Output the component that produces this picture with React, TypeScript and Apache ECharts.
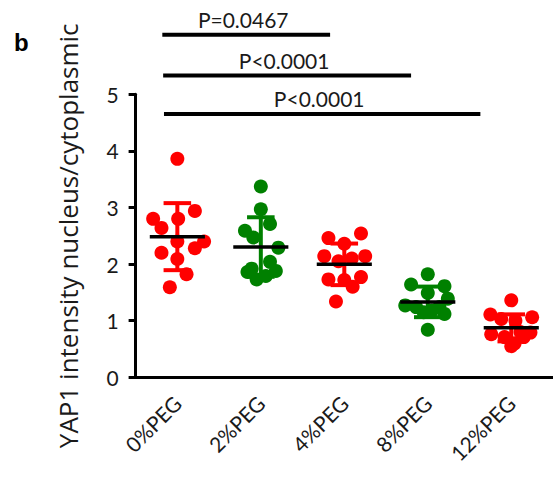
import React, { useEffect, useRef } from "react";
import * as echarts from "echarts";

const categories = ["0%PEG", "2%PEG", "4%PEG", "8%PEG", "12%PEG"];
const groupColors = ["#ff0000", "#008000", "#ff0000", "#008000", "#ff0000"];

// values, with their horizontal scatter offsets (in category units)
const g0Values = [3.86, 2.8, 2.94, 2.8, 2.64, 2.4, 2.4, 2.28, 2.2, 2.09, 1.82, 1.59];
const g0Offsets = [0, -0.29, 0.21, 0.01, -0.19, 0, 0.32, 0.21, -0.19, 0, 0.11, -0.09];
const g1Values = [3.37, 2.97, 2.71, 2.59, 2.47, 2.29, 2.04, 1.92, 1.86, 1.88, 1.79, 1.73];
const g1Offsets = [0, 0, 0.11, -0.19, -0.09, 0.21, 0.11, -0.11, -0.16, 0.18, 0.06, -0.05];
const g2Values = [2.54, 2.46, 2.36, 2.14, 2.14, 2.1, 2.05, 1.73, 1.77, 1.72, 1.6, 1.34];
const g2Offsets = [0.2, -0.19, 0, -0.24, 0.25, 0.09, -0.07, -0.19, 0.2, 0, 0.1, -0.1];
const g3Values = [1.82, 1.64, 1.61, 1.49, 1.39, 1.27, 1.24, 1.24, 1.18, 1.15, 1.12, 0.84];
const g3Offsets = [0, -0.2, 0.2, 0, 0.24, -0.27, -0.14, 0.14, 0.05, -0.05, 0.2, 0];
const g4Values = [1.36, 1.11, 1.06, 1.03, 1.0, 0.8, 0.79, 0.76, 0.71, 0.71, 0.6, 0.55];
const g4Offsets = [0, -0.25, 0.25, -0.12, 0.05, 0.11, 0.23, -0.24, -0.08, 0.15, 0.04, 0];

const groupValues = [g0Values, g1Values, g2Values, g3Values, g4Values];
const groupOffsets = [g0Offsets, g1Offsets, g2Offsets, g3Offsets, g4Offsets];

const yTicks = [0, 1, 2, 3, 4, 5];

// significance brackets
const pLabels = ["P=0.0467", "P<0.0001", "P<0.0001"];
const pStart = [-0.18, -0.17, -0.16];
const pEnd = [1.83, 2.8, 3.63];
const pLevel = [6.05, 5.33, 4.65];

function mean(a: number[]) {
  return a.reduce((s, v) => s + v, 0) / a.length;
}
function sd(a: number[]) {
  const m = mean(a);
  return Math.sqrt(a.reduce((s, v) => s + (v - m) * (v - m), 0) / (a.length - 1));
}

const FONT = "Lato";

export default function App() {
  const ref = useRef<HTMLDivElement>(null);
  useEffect(() => {
    if (!ref.current) return;
    const chart = echarts.init(ref.current, null, { renderer: "svg" });

    const scatterSeries = groupValues.map((vals, gi) => ({
      type: "scatter",
      xAxisIndex: 1,
      yAxisIndex: 0,
      symbol: "circle",
      symbolSize: 14,
      itemStyle: { color: groupColors[gi], opacity: 1 },
      z: 2,
      data: vals.map((v, k) => [gi + groupOffsets[gi][k], v]),
    }));

    const statsData = groupValues.map((vals, gi) => [gi, mean(vals), sd(vals)]);

    const statsSeries = {
      type: "custom",
      xAxisIndex: 1,
      yAxisIndex: 0,
      z: 3,
      clip: false,
      data: statsData,
      renderItem: (params: any, api: any) => {
        const i = api.value(0);
        const m = api.value(1);
        const s = api.value(2);
        const c = groupColors[params.dataIndex];
        const top = api.coord([i, m + s]);
        const bot = api.coord([i, m - s]);
        const capL = api.coord([i - 0.165, m])[0];
        const capR = api.coord([i + 0.165, m])[0];
        const mL = api.coord([i - 0.33, m]);
        const mR = api.coord([i + 0.33, m]);
        const st = { stroke: c, lineWidth: 4 };
        return {
          type: "group",
          children: [
            { type: "line", shape: { x1: top[0], y1: top[1], x2: bot[0], y2: bot[1] }, style: st },
            { type: "line", shape: { x1: capL, y1: top[1], x2: capR, y2: top[1] }, style: st },
            { type: "line", shape: { x1: capL, y1: bot[1], x2: capR, y2: bot[1] }, style: st },
            {
              type: "line",
              shape: { x1: mL[0], y1: mL[1], x2: mR[0], y2: mR[1] },
              style: { stroke: "#000", lineWidth: 3.5 },
            },
          ],
        };
      },
    };

    const bracketSeries = {
      type: "custom",
      xAxisIndex: 1,
      yAxisIndex: 0,
      z: 4,
      clip: false,
      data: pLabels.map((l, k) => [pStart[k], pEnd[k], pLevel[k]]),
      renderItem: (params: any, api: any) => {
        const a = api.coord([api.value(0), api.value(2)]);
        const b = api.coord([api.value(1), api.value(2)]);
        return {
          type: "group",
          children: [
            {
              type: "line",
              shape: { x1: a[0], y1: a[1], x2: b[0], y2: b[1] },
              style: { stroke: "#000", lineWidth: 4 },
            },
            {
              type: "text",
              x: (a[0] + b[0]) / 2 - 3,
              y: a[1] - 5,
              style: {
                text: pLabels[params.dataIndex],
                fill: "#1a1a1a",
                font: `21px ${FONT}`,
                align: "center",
                verticalAlign: "bottom",
              },
            },
          ],
        };
      },
    };

    chart.setOption({
      animation: false,
      backgroundColor: "#ffffff",
      grid: { left: 135.6, top: 94.3, width: 423.75, height: 283 },
      xAxis: [
        {
          type: "category",
          data: categories,
          boundaryGap: true,
          axisLine: { lineStyle: { color: "#000", width: 3 } },
          axisTick: { alignWithLabel: true, length: 7, lineStyle: { color: "#000", width: 3 } },
          axisLabel: {
            rotate: 45,
            margin: 22,
            color: "#1a1a1a",
            fontSize: 21,
            fontFamily: FONT,
            interval: 0,
          },
          splitLine: { show: false },
        },
        {
          type: "value",
          min: -0.5,
          max: 4.5,
          show: false,
          splitLine: { show: false },
        },
      ],
      yAxis: [
        {
          type: "value",
          min: yTicks[0],
          max: yTicks[yTicks.length - 1],
          interval: 1,
          name: "YAP1 intensity nucleus/cytoplasmic",
          nameLocation: "middle",
          nameGap: 55,
          nameTextStyle: { fontSize: 26, fontFamily: "Open Sans", color: "#1a1a1a" },
          axisLine: { show: true, onZero: false, lineStyle: { color: "#000", width: 3 } },
          axisTick: { show: true, length: 7, lineStyle: { color: "#000", width: 3 } },
          axisLabel: { margin: 17, color: "#1a1a1a", fontSize: 21, fontFamily: FONT },
          splitLine: { show: false },
        },
      ],
      graphic: [
        {
          type: "text",
          left: 14,
          top: 30,
          style: { text: "b", font: "bold 24px Liberation Sans", fill: "#000" },
        },
      ],
      series: [...scatterSeries, statsSeries, bracketSeries],
    });
    return () => chart.dispose();
  }, []);
  return (
    <div
      ref={ref}
      style={{ position: "fixed", left: 0, top: 0, width: 553, height: 477 }}
    />
  );
}
